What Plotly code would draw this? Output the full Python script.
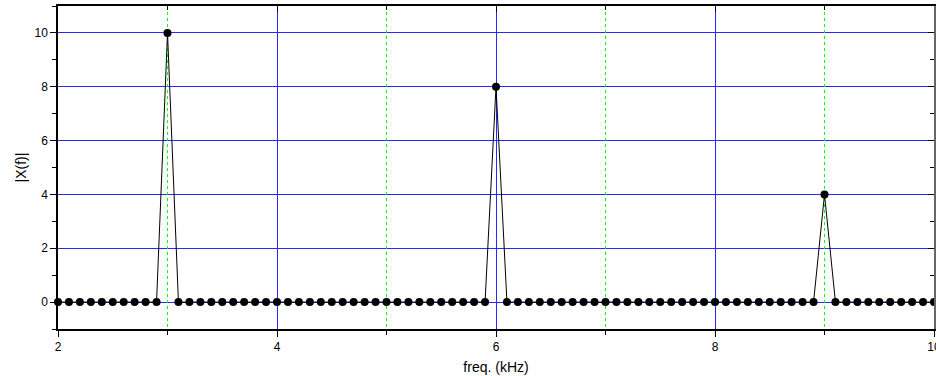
import plotly.graph_objects as go

# frequency bins (kHz), 0.1 kHz spacing from 2.0 to 10.0
freq = [round(2.0 + 0.1 * i, 1) for i in range(81)]
# magnitude |X(f)| at each bin
mag = [
    0, 0, 0, 0, 0, 0, 0, 0, 0, 0,      # 2.0 - 2.9
    10, 0, 0, 0, 0, 0, 0, 0, 0, 0,     # 3.0 - 3.9
    0, 0, 0, 0, 0, 0, 0, 0, 0, 0,      # 4.0 - 4.9
    0, 0, 0, 0, 0, 0, 0, 0, 0, 0,      # 5.0 - 5.9
    8, 0, 0, 0, 0, 0, 0, 0, 0, 0,      # 6.0 - 6.9
    0, 0, 0, 0, 0, 0, 0, 0, 0, 0,      # 7.0 - 7.9
    0, 0, 0, 0, 0, 0, 0, 0, 0, 0,      # 8.0 - 8.9
    4, 0, 0, 0, 0, 0, 0, 0, 0, 0,      # 9.0 - 9.9
    0,                                  # 10.0
]
x_ticks = [2, 4, 6, 8, 10]
x_minor = [3, 5, 7, 9]
y_ticks = [0, 2, 4, 6, 8, 10]

font = dict(family="Liberation Sans, Arial, sans-serif", size=12, color="black")
title_font = dict(family="Liberation Sans, Arial, sans-serif", size=14, color="black")
blue = "rgb(40,40,255)"

fig = go.Figure()
fig.add_trace(go.Scatter(
    x=freq, y=mag, mode="lines+markers",
    line=dict(color="black", width=1),
    marker=dict(color="black", size=8),
    cliponaxis=False, showlegend=False,
))

fig.update_layout(
    width=936, height=376,
    margin=dict(l=58, r=2, t=6, b=47),
    paper_bgcolor="white", plot_bgcolor="white",
    font=font,
    xaxis=dict(
        range=[2, 10], tickvals=x_ticks, ticks="outside", ticklen=6, tickwidth=1,
        tickcolor="black", showline=True, linecolor="black", linewidth=1.5,
        showgrid=True, gridcolor=blue, gridwidth=1, zeroline=False,
        ticklabeloverflow="allow", automargin=False,
        minor=dict(tickvals=x_minor, ticks="outside", ticklen=4, tickcolor="black",
                   showgrid=False),
        title=dict(text="freq. (kHz)", standoff=9, font=title_font),
    ),
    yaxis=dict(
        range=[-1, 11], tickvals=y_ticks, ticks="outside", ticklen=6, tickwidth=1,
        tickcolor="black", showline=True, linecolor="black", linewidth=1.5,
        showgrid=True, gridcolor=blue, gridwidth=1, zeroline=False, automargin=False,
        minor=dict(dtick=1, tick0=1, ticks="outside", ticklen=4, tickcolor="black",
                   showgrid=False),
        title=dict(text="|X(f)|", standoff=5, font=title_font),
    ),
    xaxis2=dict(
        overlaying="x", side="top", range=[2, 10], tickvals=x_ticks, automargin=False,
        ticks="inside", ticklen=6, tickcolor="black", showticklabels=False,
        showline=True, linecolor="black", linewidth=1.5, showgrid=False, zeroline=False,
        minor=dict(tickvals=x_minor, ticks="inside", ticklen=4, tickcolor="black",
                   showgrid=False),
    ),
    xaxis3=dict(
        overlaying="x", side="bottom", range=[2, 10], tickvals=x_minor, automargin=False,
        ticks="", showticklabels=False, showline=False, zeroline=False,
        showgrid=True, gridcolor="rgb(0,255,0)", griddash="dot", gridwidth=1,
    ),
    yaxis2=dict(
        overlaying="y", side="right", range=[-1, 11], tickvals=y_ticks, automargin=False,
        ticks="inside", ticklen=6, tickcolor="black", showticklabels=False,
        showline=True, linecolor="#666666", linewidth=1.5, showgrid=False, zeroline=False,
        minor=dict(dtick=1, tick0=1, ticks="inside", ticklen=4, tickcolor="black",
                   showgrid=False),
    ),
)
# invisible traces to activate the mirror / grid axes
fig.add_trace(go.Scatter(x=[2], y=[0], xaxis="x2", yaxis="y2", mode="markers",
                         marker=dict(opacity=0), hoverinfo="skip", showlegend=False))
fig.add_trace(go.Scatter(x=[2], y=[0], xaxis="x3", yaxis="y", mode="markers",
                         marker=dict(opacity=0), hoverinfo="skip", showlegend=False))

fig.write_html("out.html")
